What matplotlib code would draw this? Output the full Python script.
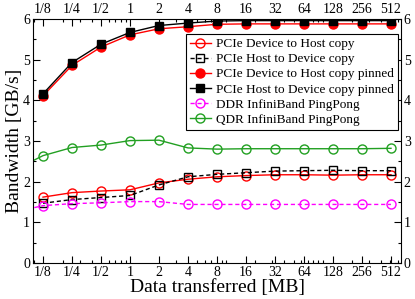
import matplotlib
matplotlib.use("Agg")
import matplotlib.pyplot as plt
from matplotlib.ticker import FixedLocator, LogLocator, NullFormatter, FixedFormatter

plt.rcParams['font.family'] = ['Liberation Serif', 'DejaVu Serif']

sizes = [1/8, 1/4, 1/2, 1, 2, 4, 8, 16, 32, 64, 128, 256, 512]
size_labels = ["1/8", "1/4", "1/2", "1", "2", "4", "8", "16", "32", "64", "128", "256", "512"]
ib_sizes = [1/16] + sizes

d2h_copy = [1.62, 1.73, 1.77, 1.80, 1.97, 2.06, 2.12, 2.15, 2.17, 2.17, 2.16, 2.17, 2.17]
h2d_copy = [1.47, 1.56, 1.61, 1.66, 1.92, 2.12, 2.18, 2.22, 2.26, 2.27, 2.28, 2.27, 2.27]
d2h_pinned = [4.11, 4.86, 5.31, 5.61, 5.76, 5.81, 5.87, 5.88, 5.88, 5.88, 5.88, 5.88, 5.88]
h2d_pinned = [4.16, 4.93, 5.38, 5.67, 5.84, 5.90, 5.95, 5.96, 5.96, 5.96, 5.96, 5.96, 5.96]
ddr_pingpong = [1.25, 1.41, 1.46, 1.48, 1.51, 1.51, 1.44, 1.44, 1.44, 1.44, 1.44, 1.44, 1.44, 1.44]
qdr_pingpong = [2.28, 2.64, 2.84, 2.90, 3.01, 3.02, 2.83, 2.80, 2.81, 2.81, 2.81, 2.81, 2.81, 2.82]

fig = plt.figure(figsize=(4.15, 2.99), dpi=100)
ax = fig.add_axes([33/415, 1 - 263/299, (401-33)/415, (263-19)/299])

green = "#22a022"
ms = 6.5
ax.plot(sizes, d2h_copy, color="red", ls="-", lw=1, marker="o", ms=ms, mfc="none", mec="red", mew=1,
        label="PCIe Device to Host copy")
ax.plot(sizes, h2d_copy, color="black", ls="--", lw=1, dashes=(3, 2), marker="s", ms=5.5, mfc="none", mec="black", mew=1,
        label="PCIe Host to Device copy")
ax.plot(sizes, d2h_pinned, color="red", ls="-", lw=1, marker="o", ms=ms, mfc="red", mec="red", mew=1,
        label="PCIe Device to Host copy pinned")
ax.plot(sizes, h2d_pinned, color="black", ls="-", lw=1, marker="s", ms=6, mfc="black", mec="black", mew=1,
        label="PCIe Host to Device copy pinned")
ax.plot(ib_sizes, ddr_pingpong, color="magenta", ls="--", lw=1, dashes=(3, 2), marker="o", ms=ms, mfc="none", mec="magenta", mew=1,
        label="DDR InfiniBand PingPong")
ax.plot(ib_sizes, qdr_pingpong, color=green, ls="-", lw=1, marker="o", ms=ms, mfc="none", mec=green, mew=1,
        label="QDR InfiniBand PingPong")

ax.set_xscale("log", base=2)
ax.set_xlim(2 ** (-3 - 0.345), 2 ** (9 + 0.345))
ax.set_ylim(0, 6)
ax.xaxis.set_major_locator(FixedLocator(sizes))
ax.xaxis.set_major_formatter(FixedFormatter(size_labels))
ax.xaxis.set_minor_locator(LogLocator(base=10, subs=range(1, 10), numticks=20))
ax.xaxis.set_minor_formatter(NullFormatter())
ax.set_yticks(range(0, 7))
ax.set_yticks([0.5 + i for i in range(6)], minor=True)

ax.tick_params(which="both", direction="in", top=True, right=True, labeltop=True, labelright=True,
               labelsize=10, width=0.8, colors="black", pad=2)
ax.tick_params(which="major", length=5)
ax.tick_params(which="minor", length=2.5)
for s in ax.spines.values():
    s.set_linewidth(0.8)

ax.set_xlabel("Data transferred [MB]", fontsize=14, labelpad=0)
ax.set_ylabel("Bandwidth [GB/s]", fontsize=14, labelpad=0)

leg = ax.legend(loc="upper right", bbox_to_anchor=(398/415, 1 - 34/299), bbox_transform=fig.transFigure,
                fontsize=9.5, frameon=True, fancybox=False, edgecolor="black", framealpha=1,
                handlelength=1.6, handletextpad=0.4, borderpad=0.3, labelspacing=0.22, borderaxespad=0)
leg.get_frame().set_linewidth(0.8)

fig.savefig("out.png", dpi=100)
